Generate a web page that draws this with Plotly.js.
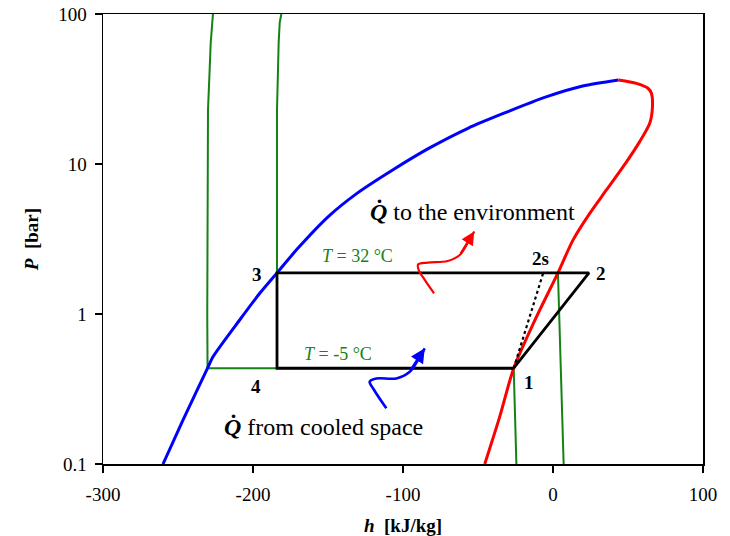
<!DOCTYPE html>
<html>
<head>
<meta charset="utf-8">
<script src="https://cdn.plot.ly/plotly-3.0.1.min.js"></script>
<style>
html,body{margin:0;padding:0;background:#fff;}
#chart{width:730px;height:536px;}
</style>
</head>
<body>
<div id="chart"></div>
<script>
// ---- data (h in kJ/kg, P in bar) ----
const satLiqH = [-260, -246.7, -230.3, -226.7, -208.9, -195.5, -184, -170.1, -149.8, -130.7, -106.9, -82.9, -56.7, -32.7, -4.1, 19.8, 43.7];
const satLiqP = [0.1, 0.196, 0.435, 0.518, 0.912, 1.374, 1.88, 2.74, 4.46, 6.37, 9.12, 12.7, 17.3, 21.8, 28.1, 33.1, 36.3];

const satVapH = [43.7, 55.6, 63.3, 65.6, 66.3, 64.5, 57.8, 48.9, 35.6, 24.5, 13.3, 3.3, -11.5, -26.2, -35.5, -45.5];
const satVapP = [36.3, 34.5, 32.0, 29.6, 24.1, 18.7, 14.1, 10.3, 6.71, 4.69, 3.11, 1.88, 0.935, 0.435, 0.207, 0.1];

const isoLowH = [-226.7, -228.2, -228.9, -230, -230.5, -230.3, -26.2, -24.4];
const isoLowP = [100, 64, 42.4, 22.9, 1, 0.435, 0.435, 0.1];

const isoHighH = [-181.1, -182.2, -182.9, -183.7, -184, -184, 3.3, 7.1];
const isoHighP = [100, 87.5, 64, 32.6, 22.9, 1.88, 1.88, 0.1];

const cycleH = [-26.2, 24, -184, -184, -26.2];
const cycleP = [0.435, 1.88, 1.88, 0.435, 0.435];

const isenH = [-26.2, -6.5];
const isenP = [0.435, 1.88];

const redArrowH = [-79.3, -85.5, -89.5, -89.9, -83.5, -70.2, -62.2, -56.9, -52.5];
const redArrowP = [1.374, 1.687, 1.963, 2.138, 2.203, 2.254, 2.472, 2.972, 3.55];

const blueArrowH = [-111.1, -120, -122.2, -117.7, -104.4, -95.5, -90, -85.5];
const blueArrowP = [0.235, 0.320, 0.354, 0.372, 0.372, 0.412, 0.493, 0.59];

const pointLabels = ['1', '2', '3', '4', '2s'];
const xTicks = [-300, -200, -100, 0, 100];
const yTicks = [0.1, 1, 10, 100];
const yTickText = ['0.1', '1', '10', '100'];

// ---- styles ----
const SERIF = 'Liberation Serif, Times New Roman, serif';
const GREEN = '#148214';
const L = Math.log10;

const traces = [
  {x: isoLowH, y: isoLowP, mode: 'lines', line: {color: GREEN, width: 2}, hoverinfo: 'skip'},
  {x: isoHighH, y: isoHighP, mode: 'lines', line: {color: GREEN, width: 2}, hoverinfo: 'skip'},
  {x: satLiqH, y: satLiqP, mode: 'lines', line: {color: '#0000ff', width: 3, shape: 'spline', smoothing: 0.7}, hoverinfo: 'skip'},
  {x: satVapH, y: satVapP, mode: 'lines', line: {color: '#ff0000', width: 3, shape: 'spline', smoothing: 0.7}, hoverinfo: 'skip'},
  {x: isenH, y: isenP, mode: 'lines', line: {color: '#000', width: 2.2, dash: 'dot'}, hoverinfo: 'skip'},
  {x: cycleH, y: cycleP, mode: 'lines', line: {color: '#000', width: 2.8}, hoverinfo: 'skip'},
  {x: redArrowH, y: redArrowP, mode: 'lines', line: {color: '#ff0000', width: 2.2, shape: 'spline', smoothing: 1}, hoverinfo: 'skip'},
  {x: blueArrowH, y: blueArrowP, mode: 'lines', line: {color: '#0000ff', width: 2.6, shape: 'spline', smoothing: 1}, hoverinfo: 'skip'}
];

const lblFont = {family: SERIF, size: 19, color: '#000'};
const ptPos = [
  [cycleH[0], cycleP[0], 15, -14],
  [cycleH[1], cycleP[1], 12, -1],
  [cycleH[2], cycleP[2], -20, -2],
  [cycleH[3], cycleP[3], -21, -18],
  [isenH[1], isenP[1], -3, 14]
];
const annotations = pointLabels.map((t, i) => ({
  x: ptPos[i][0], y: L(ptPos[i][1]), xref: 'x', yref: 'y',
  text: '<b>' + t + '</b>', showarrow: false, font: lblFont,
  xshift: ptPos[i][2], yshift: ptPos[i][3]
}));

annotations.push(
  {x: -130.5, y: L(1.88), yshift: 17, xref: 'x', yref: 'y', showarrow: false,
   text: '<i>T</i> = 32 °C', font: {family: SERIF, size: 18, color: GREEN}},
  {x: -143.5, y: L(0.435), yshift: 14, xref: 'x', yref: 'y', showarrow: false,
   text: '<i>T</i> = -5 °C', font: {family: SERIF, size: 18, color: GREEN}},
  {x: -53.5, y: L(4.79), xref: 'x', yref: 'y', showarrow: false,
   text: '<b><i>Q\u0307</i></b> to the environment', font: {family: SERIF, size: 24, color: '#000'}},
  {x: -153.1, y: L(0.1766), xref: 'x', yref: 'y', showarrow: false,
   text: '<b><i>Q\u0307</i></b> from cooled space', font: {family: SERIF, size: 24, color: '#000'}},
  // arrow heads at ends of the squiggles
  {x: redArrowH[redArrowH.length - 1], y: L(redArrowP[redArrowP.length - 1]),
   ax: redArrowH[redArrowH.length - 3], ay: L(redArrowP[redArrowP.length - 3]),
   xref: 'x', yref: 'y', axref: 'x', ayref: 'y', showarrow: true, text: '',
   arrowhead: 2, arrowsize: 1.2, arrowwidth: 2.2, arrowcolor: '#ff0000'},
  {x: blueArrowH[blueArrowH.length - 1], y: L(blueArrowP[blueArrowP.length - 1]),
   ax: blueArrowH[blueArrowH.length - 3], ay: L(blueArrowP[blueArrowP.length - 3]),
   xref: 'x', yref: 'y', axref: 'x', ayref: 'y', showarrow: true, text: '',
   arrowhead: 2, arrowsize: 1.1, arrowwidth: 2.6, arrowcolor: '#0000ff'}
);

const layout = {
  width: 730, height: 536,
  margin: {l: 103, r: 27, t: 14, b: 72},
  paper_bgcolor: '#fff', plot_bgcolor: '#fff',
  showlegend: false,
  font: {family: SERIF, size: 19, color: '#000'},
  xaxis: {
    range: [-300, 100], tickvals: xTicks, ticktext: xTicks.map(String),
    showgrid: false, zeroline: false,
    showline: true, linecolor: '#000', linewidth: 1.5, mirror: true,
    ticks: 'outside', ticklen: 7, tickwidth: 1.5, tickcolor: '#000',
    tickfont: {family: SERIF, size: 19, color: '#000'},
    ticklabelstandoff: 6,
    title: {text: '<b><i>h</i>  [kJ/kg]</b>', font: {family: SERIF, size: 19, color: '#000'}, standoff: 14}
  },
  yaxis: {
    type: 'log', range: [-1, 2], tickvals: yTicks, ticktext: yTickText,
    showgrid: false, zeroline: false,
    showline: true, linecolor: '#000', linewidth: 1.5, mirror: true,
    ticks: 'outside', ticklen: 7, tickwidth: 1.5, tickcolor: '#000',
    tickfont: {family: SERIF, size: 19, color: '#000'},
    ticklabelstandoff: 4,
    title: {text: '<b><i>P</i>  [bar]</b>', font: {family: SERIF, size: 19, color: '#000'}, standoff: 14}
  },
  annotations: annotations
};

Plotly.newPlot('chart', traces, layout, {displayModeBar: false, staticPlot: true});
</script>
</body>
</html>
